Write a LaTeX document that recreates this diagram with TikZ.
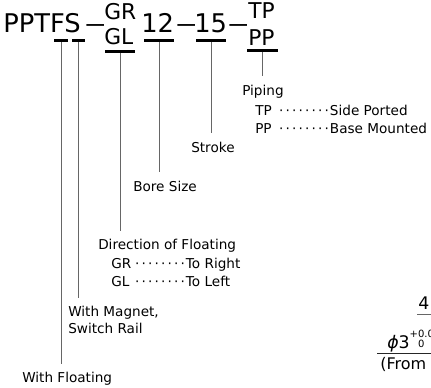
\documentclass[tikz,border=0pt]{standalone}
\usepackage{graphicx}
\usepackage{fontspec}
\setmainfont{DejaVu Sans}

% dotted leader between a code and its meaning
\newcommand\leaderdots{\hbox to 39pt{\cleaders\hbox to 4.875pt{\hss·\hss}\hfill}}
\newcommand\keyrow[2]{\hbox to 56pt{#1\hfill\leaderdots}#2}
\newcommand\longdash{\scalebox{1.7}[1]{–}}

\tikzset{
  code/.style={anchor=base west, inner sep=0pt, font=\fontsize{19.3pt}{23pt}\selectfont},
  codepair/.style={code, font=\fontsize{16.3pt}{19pt}\selectfont},
  bar/.style={fill=black, inner sep=0pt, minimum height=2.25pt, minimum width=#1},
  lead/.style={draw=black!60, line width=0.75pt},
  label/.style={anchor=north west, inner sep=0pt, outer ysep=6.75pt, align=left,
    font=\fontsize{10.2pt}{12.75pt}\selectfont},
  entry/.style={anchor=base west, inner sep=0pt, font=\fontsize{10.2pt}{12.75pt}\selectfont},
  part/.style={anchor=base west, inner sep=0pt, font=\fontsize{13pt}{15pt}\selectfont}
}

\begin{document}
\begin{tikzpicture}[x=0.75pt, y=-0.75pt]
    \useasboundingbox (0,0) rectangle (431,388);
    \clip (0,0) rectangle (431,388);

    % Model code
    \node[code] (pptfs) at (3,33) {PPTFS};
    \node[code] (dashA) at (84,33) {\longdash};
    \node[codepair] (gr) at (104,20) {GR};
    \node[codepair] (gl) at (104,45) {GL};
    \node[code] (bore) at (141,33) {12};
    \node[code] (dashB) at (175,33) {\longdash};
    \node[code] (stroke) at (194,33) {15};
    \node[code] (dashC) at (227,33) {\longdash};
    \node[codepair] (tp) at (248,19) {TP};
    \node[codepair] (pp) at (248,46) {PP};

    % Bars under each part
    \node[bar=10.5pt] (barF) at (61,40.5) {};
    \node[bar=9.75pt] (barS) at (78.5,40.5) {};
    \node[bar=22.5pt] (barG) at (120,51.5) {};
    \node[bar=22.5pt] (barB) at (159,40.5) {};
    \node[bar=22.5pt] (barT) at (211,40.5) {};
    \node[bar=23.25pt] (barP) at (262.5,50.5) {};

    % Labels
    \node[label] (piping) at (242,76) {Piping};
    \node[entry] (sideported) at (255,116) {\keyrow{TP}{Side Ported}};
    \node[entry] (basemounted) at (255,134) {\keyrow{PP}{Base Mounted}};
    \node[label] (strokelab) at (191,133.5) {Stroke};
    \node[label] (borelab) at (133,172.5) {Bore Size};
    \node[label] (direction) at (98,230.5) {Direction of Floating};
    \node[entry] (toright) at (111,268) {\keyrow{GR}{To Right}};
    \node[entry] (toleft) at (111,286) {\keyrow{GL}{To Left}};
    \node[label] (magnet) at (68,297.5) {With Magnet,\\Switch Rail};
    \node[label] (floating) at (22,363.5) {With Floating};

    % Leaders
    \draw[lead] (barF.south) -- (barF.south |- floating.north);
    \draw[lead] (barS.south) -- (barS.south |- magnet.north);
    \draw[lead] (barG.south) -- (barG.south |- direction.north);
    \draw[lead] (barB.south) -- (barB.south |- borelab.north);
    \draw[lead] (barT.south) -- (barT.south |- strokelab.north);
    \draw[lead] (barP.south) -- (barP.south |- piping.north);

    % Part of the next drawing
    \node[part] (four) at (418,309) {4};
    \draw[lead] (417,314) -- (431,314);
    \node[part] (hole) at (387,348) {{\itshape ϕ}3\rlap{\raisebox{8.25pt}{\fontsize{7.5pt}{8pt}\selectfont +0.0}}\raisebox{0.75pt}{\fontsize{7.5pt}{8pt}\selectfont\phantom{+}0}};
    \draw[black!85, line width=0.75pt] (377,353) -- (431,353);
    \node[part, font=\fontsize{12pt}{14pt}\selectfont] (from) at (380,369) {(From};
\end{tikzpicture}
\end{document}
